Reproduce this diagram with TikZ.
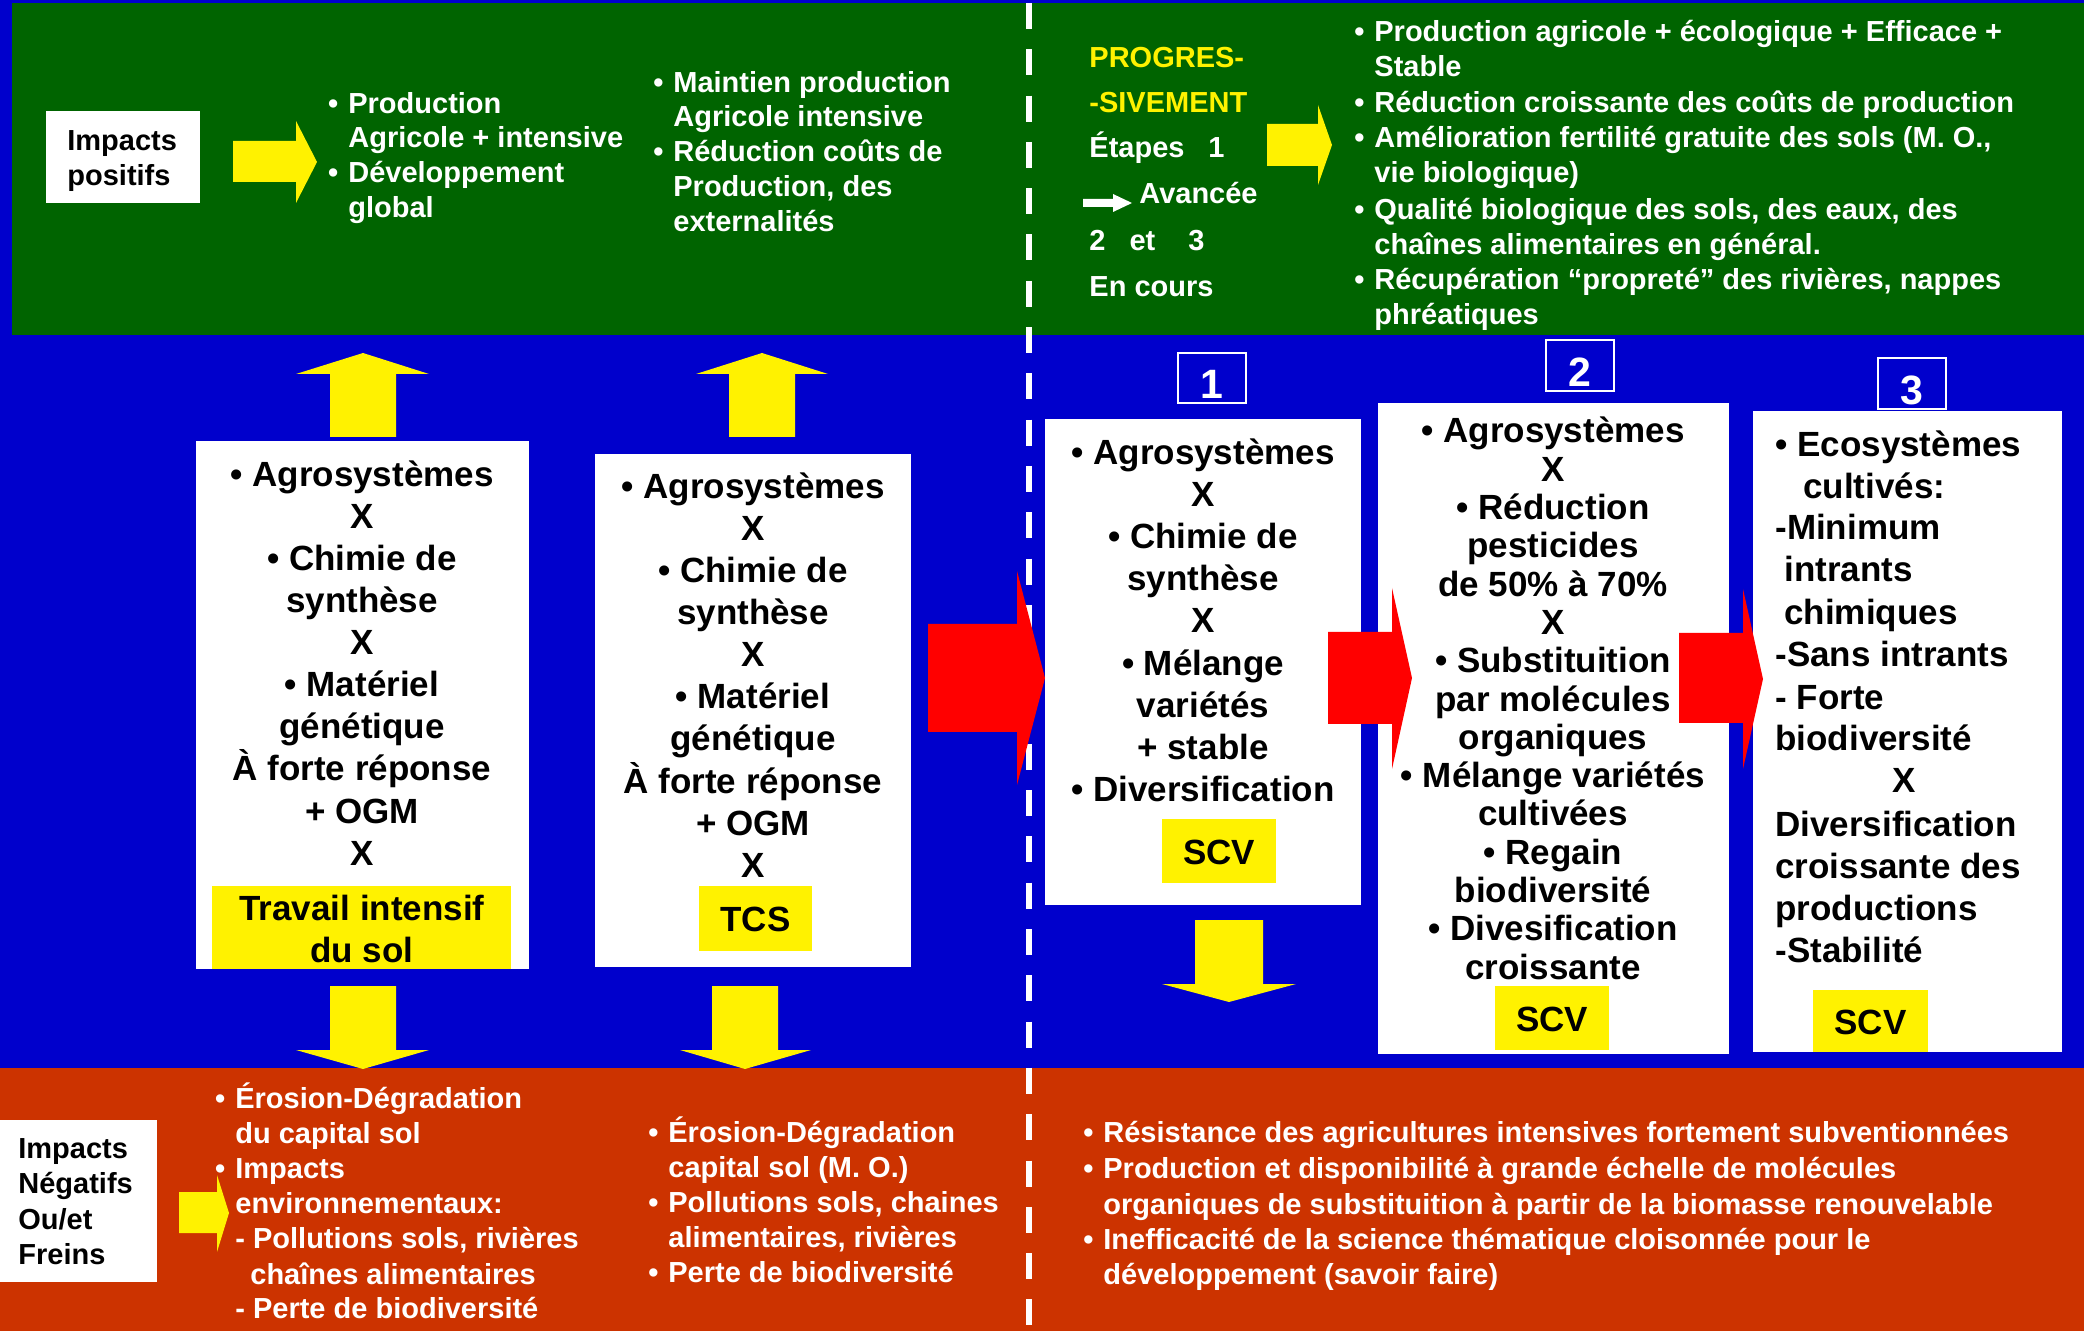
\documentclass[tikz,border=0pt]{standalone}
\usepackage{fontspec}
\setmainfont{Liberation Sans}

\definecolor{bgblue}{RGB}{0,0,204}
\definecolor{topgreen}{RGB}{0,100,0}
\definecolor{lowred}{RGB}{204,51,0}

\newcommand{\bandfont}{\bfseries\fontsize{14.5}{17}\selectfont}
\newcommand{\boxfont}{\bfseries\fontsize{17.5}{21}\selectfont}
\newcommand{\bul}{\llap{\textbullet\hspace{5pt}}}

\begin{document}
\begin{tikzpicture}[x=0.5pt, y=-0.5pt,
  band/.style={inner sep=0, outer sep=0, anchor=north west},
  panel/.style={band, fill=white},
  tag/.style={band, fill=yellow, text=black, font=\boxfont, text height=13pt, text depth=0pt},
  num/.style={band, draw=white, line width=1pt, text=white, font=\bfseries\fontsize{20.5}{24}\selectfont, text height=21pt, text depth=0pt},
  wl/.style={anchor=base west, inner sep=0, text=white, font=\bandfont},
  kl/.style={wl, text=black},
  bc/.style={anchor=base, inner sep=0, text=black, font=\boxfont},
  bl/.style={bc, anchor=base west},
  yarrow/.style={fill=yellow},
  rarrow/.style={fill=red}]

\useasboundingbox (0,0) rectangle (2084,1331);
\fill[bgblue] (0,0) rectangle (2084,1331);

% bands
\node[band, fill=topgreen, minimum width=1036pt, minimum height=166pt] (top) at (12,3) {};
\node[band, fill=lowred, minimum width=1042pt, minimum height=131.5pt] (low) at (0,1068) {};
\draw[white, line width=3pt, dash pattern=on 13pt off 10.15pt] (1029,3) -- (1029,1331);

% boxes
\node[panel, minimum width=77pt, minimum height=46pt] (pos) at (46,111) {};
\node[panel, minimum width=78.5pt, minimum height=81pt] (neg) at (0,1120) {};
\node[panel, minimum width=166.5pt, minimum height=264pt] (boxA) at (196,441) {};
\node[panel, minimum width=158pt, minimum height=256.5pt] (boxB) at (595,454) {};
\node[panel, minimum width=158pt, minimum height=243pt] (box1) at (1045,419) {};
\node[panel, minimum width=175.5pt, minimum height=325.5pt] (box2) at (1378,403) {};
\node[panel, minimum width=154.5pt, minimum height=320.5pt] (box3) at (1753,411) {};

\node[tag, minimum width=149.5pt, minimum height=41.5pt] (tagA) at (212,886) {};
\node[tag, minimum width=56.5pt, minimum height=32.5pt] (tagB) at (699,886) {TCS};
\node[tag, minimum width=57pt, minimum height=32pt] (scv1) at (1162,819) {SCV};
\node[tag, minimum width=57pt, minimum height=32pt] (scv2) at (1495,986) {SCV};
\node[tag, minimum width=57.5pt, minimum height=31pt] (scv3) at (1813,990) {SCV};

\node[num, minimum width=34pt, minimum height=25pt] (num1) at (1178,353) {1};
\node[num, minimum width=34pt, minimum height=25.5pt] (num2) at (1546,340) {2};
\node[num, minimum width=34pt, minimum height=25.5pt] (num3) at (1878,358) {3};

% block arrows
\fill[yarrow] (233,141) -- (296,141) -- (296,121) -- (317,162) -- (296,203) -- (296,182) -- (233,182) -- cycle;
\fill[yarrow] (1267,124) -- (1318,124) -- (1318,105) -- (1332,145) -- (1318,185) -- (1318,166) -- (1267,166) -- cycle;
\fill[white] (1083,199) -- (1113,199) -- (1113,194) -- (1132,203) -- (1113,212) -- (1113,207) -- (1083,207) -- cycle;
\fill[yarrow] (179,1192) -- (217,1192) -- (217,1175) -- (229,1213) -- (217,1252) -- (217,1233) -- (179,1233) -- cycle;
\fill[yarrow] (330,437) -- (330,374) -- (296,374) -- (363,353) -- (429,374) -- (396,374) -- (396,437) -- cycle;
\fill[yarrow] (729,437) -- (729,374) -- (696,374) -- (762,353) -- (828,374) -- (795,374) -- (795,437) -- cycle;
\fill[yarrow] (330,986) -- (330,1050) -- (296,1050) -- (363,1069) -- (429,1050) -- (396,1050) -- (396,986) -- cycle;
\fill[yarrow] (712,986) -- (712,1050) -- (680,1050) -- (745,1069) -- (811,1050) -- (778,1050) -- (778,986) -- cycle;
\fill[yarrow] (1195,920) -- (1195,984) -- (1162,984) -- (1229,1002) -- (1296,984) -- (1263,984) -- (1263,920) -- cycle;
\fill[rarrow] (928,624) -- (1017,624) -- (1017,571) -- (1045,678) -- (1017,785) -- (1017,732) -- (928,732) -- cycle;
\fill[rarrow] (1328,632) -- (1392,632) -- (1392,588) -- (1412,678) -- (1392,769) -- (1392,724) -- (1328,724) -- cycle;
\fill[rarrow] (1679,633) -- (1743,633) -- (1743,589) -- (1763,679) -- (1743,769) -- (1743,723) -- (1679,723) -- cycle;

% top band
\node[kl] (pos-a) at (67,151) {Impacts};
\node[kl] (pos-b) at (67,186) {positifs};
\foreach \y/\t [count=\i] in {114/\bul Production, 148/Agricole + intensive, 183/\bul Développement, 218/global}
  \node[wl] (gainA-\i) at (348,\y) {\t};
\foreach \y/\t [count=\i] in {93/\bul Maintien production, 127/Agricole intensive, 162/\bul Réduction coûts de, 197/{Production, des}, 232/externalités}
  \node[wl] (gainB-\i) at (673,\y) {\t};
\node[wl, text=yellow] (prog-a) at (1089,68) {PROGRES-};
\node[wl, text=yellow] (prog-b) at (1089,113) {-SIVEMENT};
\node[wl] (etape-a) at (1089,158) {Étapes\hspace{12pt}1};
\node[wl] (avance) at (1139,204) {Avancée};
\node[wl] (etape-b) at (1089,251) {2\hspace{12pt}et\hspace{16.5pt}3};
\node[wl] (cours) at (1089,297) {En cours};
\foreach \y/\t [count=\i] in {42/\bul Production agricole + écologique + Efficace +, 77/Stable,
    113/\bul Réduction croissante des coûts de production,
    148/{\bul Amélioration fertilité gratuite des sols (M. O.,}, 183/vie biologique),
    220/{\bul Qualité biologique des sols, des eaux, des}, 255/chaînes alimentaires en général.,
    290/{\bul Récupération “propreté” des rivières, nappes}, 325/phréatiques}
  \node[wl] (gainC-\i) at (1374,\y) {\t};

% middle boxes
\foreach \t [count=\i] in {\textbullet~Agrosystèmes, X, \textbullet~Chimie de, synthèse, X,
    \textbullet~Matériel, génétique, À forte réponse, + OGM, X} {
  \node[bc] (a-\i) at (362,445+42*\i) {\t};
  \node[bc] (b-\i) at (753,457+42*\i) {\t};
}
\node[bc] (tagA-a) at (362,920) {Travail intensif};
\node[bc] (tagA-b) at (362,962) {du sol};
\foreach \t [count=\i] in {\textbullet~Agrosystèmes, X, \textbullet~Chimie de, synthèse, X,
    \textbullet~Mélange, variétés, + stable, \textbullet~Diversification}
  \node[bc] (s1-\i) at (1203,422+42.2*\i) {\t};
\foreach \t [count=\i] in {\textbullet~Agrosystèmes, X, \textbullet~Réduction, pesticides, de 50\% à 70\%, X,
    \textbullet~Substituition, par molécules, organiques, \textbullet~Mélange variétés, cultivées,
    \textbullet~Regain, biodiversité, \textbullet~Divesification, croissante}
  \node[bc] (s2-\i) at (1553,404.7+38.3*\i) {\t};
\foreach \x/\y/\t [count=\i] in {1797/457/\bul Ecosystèmes, 1803/499/cultivés:, 1775/540/-Minimum,
    1784/582/intrants, 1784/625/chimiques, 1775/667/-Sans intrants, 1775/710/- Forte,
    1775/751/biodiversité, 1775/836/Diversification, 1775/878/croissante des,
    1775/920/productions, 1775/962/-Stabilité}
  \node[bl] (s3-\i) at (\x,\y) {\t};
\node[bc] (s3-x) at (1904,792) {X};

% bottom band
\node[kl] (neg-a) at (18,1158) {Impacts};
\node[kl] (neg-b) at (18,1193) {Négatifs};
\node[kl] (neg-c) at (18,1229) {Ou/et};
\node[kl] (neg-d) at (18,1264) {Freins};
\foreach \x/\y/\t [count=\i] in {235/1108/\bul Érosion-Dégradation, 235/1143/du capital sol,
    235/1178/\bul Impacts, 235/1213/environnementaux:, 235/1248/{- Pollutions sols, rivières},
    250/1284/chaînes alimentaires, 235/1318/- Perte de biodiversité}
  \node[wl] (lossA-\i) at (\x,\y) {\t};
\foreach \y/\t [count=\i] in {1142/\bul Érosion-Dégradation, 1177/capital sol (M. O.),
    1212/{\bul Pollutions sols, chaines}, 1247/{alimentaires, rivières}, 1282/\bul Perte de biodiversité}
  \node[wl] (lossB-\i) at (668,\y) {\t};
\foreach \y/\t [count=\i] in {1142/\bul Résistance des agricultures intensives fortement subventionnées,
    1178/\bul Production et disponibilité à grande échelle de molécules,
    1214/organiques de substituition à partir de la biomasse renouvelable,
    1249/\bul Inefficacité de la science thématique cloisonnée pour le,
    1284/développement (savoir faire)}
  \node[wl] (lossC-\i) at (1103,\y) {\t};

\end{tikzpicture}
\end{document}
